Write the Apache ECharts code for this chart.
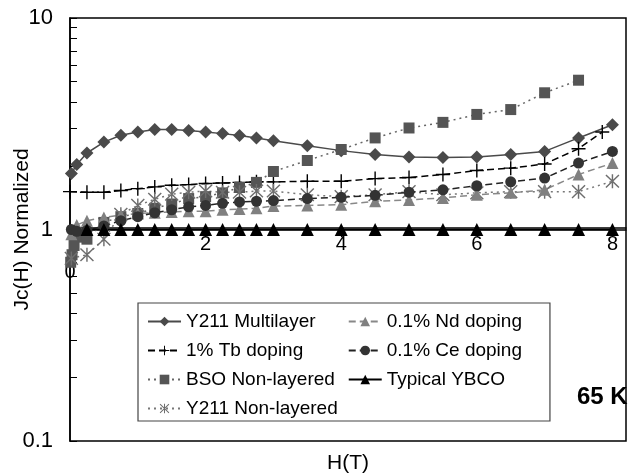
<!DOCTYPE html>
<html>
<head>
<meta charset="utf-8">
<script src="https://cdn.jsdelivr.net/npm/echarts@6/dist/echarts.min.js"></script>
<style>
html,body{margin:0;padding:0;background:#fff;}
#chart{width:628px;height:473px;}
</style>
</head>
<body>
<div id="chart"></div>
<script>
// ---- data ----
var seriesNames = ['Y211 Multilayer', '1% Tb doping', 'BSO Non-layered', 'Y211 Non-layered',
                   '0.1% Nd doping', '0.1% Ce doping', 'Typical YBCO'];

var hMulti   = [0.02,0.1,0.25,0.5,0.75,1.0,1.25,1.5,1.75,2.0,2.25,2.5,2.75,3.0,3.5,4.0,4.5,5.0,5.5,6.0,6.5,7.0,7.5,8.0];
var multi    = [1.84,2.03,2.30,2.59,2.79,2.89,2.97,2.97,2.94,2.89,2.84,2.78,2.71,2.63,2.49,2.36,2.26,2.20,2.19,2.20,2.26,2.34,2.71,3.13];

var hTb      = [0,0.25,0.5,0.75,1.0,1.25,1.5,1.75,2.0,2.25,2.5,2.75,3.0,3.5,4.0,4.5,5.0,5.5,6.0,6.5,7.0,7.5,7.85];
var tb       = [1.51,1.50,1.50,1.53,1.56,1.59,1.62,1.63,1.65,1.66,1.67,1.68,1.68,1.69,1.69,1.74,1.76,1.82,1.90,1.95,2.04,2.41,2.89];

var hBso     = [0.01,0.03,0.06,0.1,0.25,0.5,0.75,1.0,1.25,1.5,1.75,2.0,2.25,2.5,2.75,3.0,3.5,4.0,4.5,5.0,5.5,6.0,6.5,7.0,7.5];
var bso      = [0.70,0.76,0.84,0.92,0.90,1.08,1.15,1.19,1.26,1.32,1.40,1.43,1.49,1.58,1.67,1.88,2.12,2.39,2.71,3.02,3.21,3.50,3.69,4.43,5.08];

var hY211nl  = [0.02,0.25,0.5,0.75,1.0,1.25,1.5,1.75,2.0,2.25,2.5,2.75,3.0,3.5,4.0,4.5,5.0,5.5,6.0,6.5,7.0,7.5,8.0];
var y211nl   = [0.73,0.76,0.90,1.18,1.30,1.39,1.47,1.50,1.52,1.50,1.50,1.52,1.52,1.46,1.43,1.46,1.51,1.46,1.49,1.51,1.51,1.51,1.69];

var hNd      = [0.02,0.1,0.25,0.5,0.75,1.0,1.25,1.5,1.75,2.0,2.25,2.5,2.75,3.0,3.5,4.0,4.5,5.0,5.5,6.0,6.5,7.0,7.5,8.0];
var nd       = [0.95,1.05,1.10,1.14,1.17,1.19,1.20,1.21,1.22,1.22,1.24,1.25,1.26,1.29,1.30,1.31,1.36,1.38,1.41,1.46,1.49,1.54,1.82,2.06];

var hCe      = [0.02,0.1,0.25,0.5,0.75,1.0,1.25,1.5,1.75,2.0,2.25,2.5,2.75,3.0,3.5,4.0,4.5,5.0,5.5,6.0,6.5,7.0,7.5,8.0];
var ce       = [1.00,0.98,0.99,1.04,1.10,1.15,1.20,1.24,1.28,1.30,1.33,1.35,1.36,1.37,1.40,1.42,1.45,1.50,1.54,1.61,1.68,1.75,2.06,2.34];

var hYbco    = [0.25,0.5,0.75,1.0,1.25,1.5,1.75,2.0,2.25,2.5,2.75,3.0,3.5,4.0,4.5,5.0,5.5,6.0,6.5,7.0,7.5,8.0];
var ybco     = [1,1,1,1,1,1,1,1,1,1,1,1,1,1,1,1,1,1,1,1,1,1];

var xLabelValues = [0,2,4,6,8];
var xTickValues  = [2,4,6,8];
var yMinorValues = [0.2,0.3,0.4,0.5,0.6,0.7,0.8,0.9,2,3,4,5,6,7,8,9];

function pairs(xs, ys){ return xs.map(function(x,i){ return [x, ys[i]]; }); }

var PLUS = 'path://M9,0H11V9H20V11H11V20H9V11H0V9H9Z';
var STAR = 'path://M9,0H11V20H9Z M0.3,1.7L1.7,0.3L19.7,18.3L18.3,19.7Z M18.3,0.3L19.7,1.7L1.7,19.7L0.3,18.3Z';

var FONT = 'Liberation Sans';
var chart = echarts.init(document.getElementById('chart'), null, {renderer:'canvas'});

function mk(name, data, opt){
  return {
    name: name, type: 'line', data: data,
    xAxisIndex: 0, yAxisIndex: 0,
    symbol: opt.symbol, symbolSize: opt.size,
    itemStyle: {color: opt.color, opacity: 1},
    lineStyle: {color: opt.lineColor || opt.color, width: opt.width || 1.5, type: opt.dash || 'solid'},
    emphasis: {disabled: true},
    animation: false
  };
}

var option = {
  animation: false,
  backgroundColor: '#fff',
  textStyle: {fontFamily: FONT},
  grid: [
    {left: 70, right: 2, top: 18, bottom: 32, show: true, borderColor: '#000', borderWidth: 1.5,
     backgroundColor: 'transparent', outerBoundsMode: 'none', containLabel: false},
    {left: 70, right: 2, top: 18, height: 210, show: false, outerBoundsMode: 'none', containLabel: false}
  ],
  xAxis: [
    {type: 'value', gridIndex: 0, min: 0, max: 8.2,
     name: 'H(T)', nameLocation: 'middle', nameGap: 12, nameMoveOverlap: false,
     nameTextStyle: {fontSize: 21, color: '#000', fontFamily: FONT},
     axisLine: {show: true, lineStyle: {color: '#000', width: 1.5}},
     axisTick: {show: false}, axisLabel: {show: false}, splitLine: {show: false}},
    {type: 'value', gridIndex: 1, min: 0, max: 8.2, position: 'bottom', z: 3,
     axisLine: {show: true, onZero: false, lineStyle: {color: '#000', width: 1.5}},
     axisTick: {show: true, length: 9, customValues: xTickValues, lineStyle: {color: '#000', width: 1.2}},
     axisLabel: {show: true, customValues: xLabelValues, fontSize: 20, color: '#000', margin: 6, fontFamily: FONT,
       showMinLabel: true, showMaxLabel: true, hideOverlap: false,
       formatter: function(v){ return v === 0 ? '{z|0}' : String(v); },
       rich: {z: {fontSize: 20, color: '#000', padding: [28,0,0,0], fontFamily: FONT}}},
     splitLine: {show: false}}
  ],
  yAxis: [
    {type: 'log', logBase: 10, gridIndex: 0, min: 0.1, max: 10, position: 'left',
     name: 'Jc(H) Normalized', nameLocation: 'middle', nameRotate: 90, nameGap: 37, nameMoveOverlap: false,
     nameTextStyle: {fontSize: 21, color: '#000', fontFamily: FONT},
     axisLine: {show: true, lineStyle: {color: '#000', width: 1.5}},
     axisTick: {show: true, inside: true, length: 7, lineStyle: {color: '#000'}},
     axisLabel: {fontSize: 22, color: '#000', margin: 17, fontFamily: FONT, hideOverlap: false,
       formatter: function(v){ return String(parseFloat(Number(v).toPrecision(2))); }},
     splitLine: {show: false}},
    {type: 'value', gridIndex: 0, min: -1, max: 1, position: 'left', offset: 0,
     axisLine: {show: false}, axisLabel: {show: false}, splitLine: {show: false},
     axisTick: {show: true, inside: true, length: 7, lineStyle: {color: '#000', width: 1},
       customValues: yMinorValues.map(function(v){ return Math.log10(v); })}},
    {type: 'value', gridIndex: 1, show: false}
  ],
  legend: {
    show: true, orient: 'vertical', left: 138, top: 303, height: 112,
    padding: [9, 28, 3, 9], itemGap: 10, itemWidth: 33, itemHeight: 12,
    borderColor: '#444', borderWidth: 1.2, backgroundColor: '#fff',
    textStyle: {fontSize: 19, color: '#000', fontFamily: FONT},
    data: seriesNames,
    selectedMode: false
  },
  graphic: [
    {type: 'text', left: 577, top: 385, z: 100,
     style: {text: '65 K', font: 'bold 24px "Liberation Sans"', fill: '#000'}}
  ],
  series: [
    mk(seriesNames[0], pairs(hMulti, multi),   {symbol: 'diamond',  size: 13, color: '#4a4a4a'}),
    mk(seriesNames[1], pairs(hTb, tb),         {symbol: PLUS,       size: 14, color: '#000', dash: [7,4]}),
    mk(seriesNames[2], pairs(hBso, bso),       {symbol: 'rect',     size: 11, color: '#555', lineColor: '#666', dash: [2,4]}),
    mk(seriesNames[3], pairs(hY211nl, y211nl), {symbol: STAR,       size: 14, color: '#6e6e6e', lineColor: '#777', dash: [2,4]}),
    mk(seriesNames[4], pairs(hNd, nd),         {symbol: 'triangle', size: 12, color: '#808080', lineColor: '#888', dash: [7,4]}),
    mk(seriesNames[5], pairs(hCe, ce),         {symbol: 'circle',   size: 11, color: '#333', lineColor: '#222', dash: [7,4]}),
    mk(seriesNames[6], pairs(hYbco, ybco),     {symbol: 'triangle', size: 13, color: '#000', width: 1.5})
  ]
};
chart.setOption(option);
</script>
</body>
</html>
